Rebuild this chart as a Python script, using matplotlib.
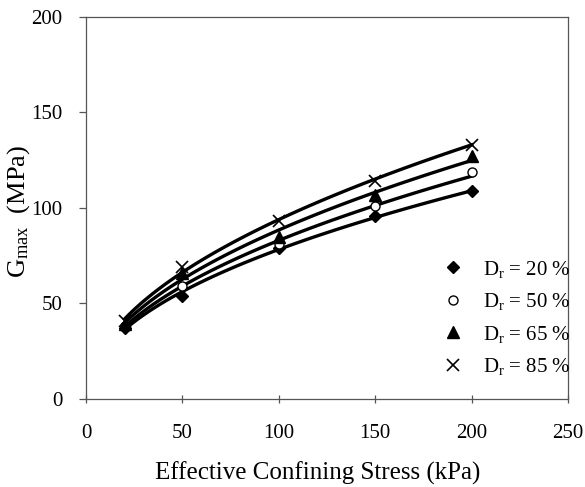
import numpy as np
import matplotlib
matplotlib.use('Agg')
import matplotlib.pyplot as plt

# effective confining stress (kPa)
stress = [20, 50, 100, 150, 200]

# Gmax (MPa) for each relative density
g_dr20 = [37, 54, 79, 96, 109]
g_dr50 = [38, 59, 81, 101, 119]
g_dr65 = [39, 66, 85, 107, 127]
g_dr85 = [41, 69, 93, 114, 133]

labels = ['20', '50', '65', '85']

plt.rcParams['font.family'] = ['Liberation Serif', 'DejaVu Serif']
plt.rcParams['mathtext.fontset'] = 'custom'
plt.rcParams['mathtext.rm'] = 'Liberation Serif'
plt.rcParams['mathtext.it'] = 'Liberation Serif:italic'


def power_fit(x, y):
    # power trend line, G = a * s^b
    b, loga = np.polyfit(np.log(x), np.log(y), 1)
    xs = np.linspace(min(x), max(x), 100)
    return xs, np.exp(loga) * xs ** b


def main():
    fig = plt.figure(figsize=(5.85, 4.87), dpi=100)
    ax = fig.add_axes([0.147, 0.181, 0.824, 0.784])

    series = [g_dr20, g_dr50, g_dr65, g_dr85]
    styles = [
        dict(marker='D', mfc='black', mec='black', ms=6),
        dict(marker='o', mfc='white', mec='black', ms=6.5, mew=1.0),
        dict(marker='^', mfc='black', mec='black', ms=8),
        dict(marker='x', mfc='black', mec='black', ms=8, mew=1.2),
    ]
    for g, st, lab in zip(series, styles, labels):
        xs, ys = power_fit(stress, g)
        ax.plot(xs, ys, color='black', lw=2.4, zorder=2)
        ax.plot(stress, g, ls='none', zorder=3,
                label=r'D$_\mathrm{r}$ = ' + lab + ' %', **st)

    ax.set_xlim(0, 250)
    ax.set_ylim(0, 200)
    ax.set_xticks([0, 50, 100, 150, 200, 250])
    ax.set_yticks([0, 50, 100, 150, 200])
    for sp in ax.spines.values():
        sp.set_color('#555555')
        sp.set_linewidth(0.9)
    ax.tick_params(axis='x', direction='inout', length=6, width=0.9,
                   color='#555555', labelsize=15, pad=15)
    ax.tick_params(axis='y', direction='out', length=5, width=0.9,
                   color='#555555', labelsize=15, pad=12)

    ax.set_xlabel('Effective Confining Stress (kPa)', fontsize=18)
    ax.xaxis.set_label_coords(0.48, -0.165)
    ax.set_ylabel(r'G$_\mathrm{max}$  (MPa)', fontsize=19)
    ax.yaxis.set_label_coords(-0.112, 0.49)

    ax.legend(loc='lower right', bbox_to_anchor=(1.045, 0.008), frameon=False,
              fontsize=15, handletextpad=0.95, labelspacing=0.55,
              handlelength=1.0)

    fig.savefig('out.png', dpi=100)


if __name__ == '__main__':
    main()
